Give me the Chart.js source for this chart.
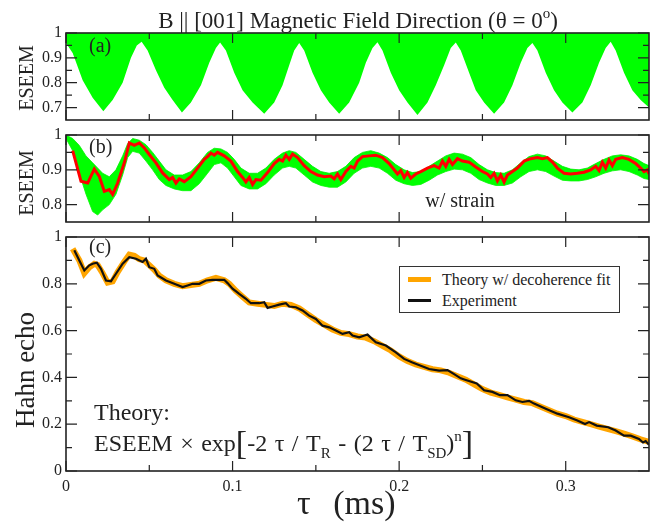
<!DOCTYPE html>
<html><head><meta charset="utf-8">
<script src="https://cdn.jsdelivr.net/npm/chart.js@4.4.1/dist/chart.umd.min.js"></script>
<style>
html,body{margin:0;padding:0;background:#fff;}
#wrap{position:relative;width:665px;height:523px;overflow:hidden;font-family:"Liberation Serif","Times New Roman",serif;color:#222;}
canvas{position:absolute;left:0;top:0;}
.t{position:absolute;white-space:nowrap;line-height:1;font-family:"Liberation Serif","Times New Roman",serif;}
.rot{position:absolute;white-space:nowrap;line-height:1;font-family:"Liberation Serif","Times New Roman",serif;transform:translate(-50%,-50%) rotate(-90deg);}
</style></head><body>
<div id="wrap">
<canvas id="ca" width="665" height="523"></canvas>
<canvas id="cb" width="665" height="523"></canvas>
<canvas id="cc" width="665" height="523"></canvas>
<div class="t" id="title" style="font-size:23px;left:358px;top:9px;transform:translateX(-50%);">B || [001] Magnetic Field Direction (θ = 0<span style="font-size:15px;position:relative;top:-10px;">o</span>)</div>
<div class="rot" style="font-size:20px;left:26px;top:78px;">ESEEM</div>
<div class="rot" style="font-size:20px;left:26px;top:183px;">ESEEM</div>
<div class="rot" style="font-size:27px;left:25px;top:370px;">Hahn echo</div>
<div class="t" style="font-size:20px;left:89px;top:35px;">(a)</div>
<div class="t" style="font-size:20px;left:89px;top:136px;">(b)</div>
<div class="t" style="font-size:20px;left:89px;top:236px;">(c)</div>
<div class="t" style="font-size:20px;left:460px;top:190px;transform:translateX(-50%);">w/ strain</div>
<div class="t" style="font-size:24px;left:94px;top:400px;">Theory:</div>
<div class="t" style="font-size:24px;left:94px;top:423px;word-spacing:1.5px;">ESEEM × exp<span style="font-size:34px;position:relative;top:3px;">[</span>-2 τ / T<span style="font-size:15px;position:relative;top:7px;">R</span> - (2 τ / T<span style="font-size:15px;position:relative;top:7px;">SD</span>)<span style="font-size:15px;position:relative;top:-10px;">n</span><span style="font-size:34px;position:relative;top:3px;">]</span></div>
<div class="t" style="font-size:34px;left:297px;top:486px;word-spacing:14px;">τ (ms)</div>
<div style="position:absolute;left:399px;top:266px;width:219px;height:45px;border:1.3px solid #333;background:#fff;">
  <div style="position:absolute;left:8px;top:10px;width:23px;height:5px;background:#ffa500;"></div>
  <div style="position:absolute;left:8px;top:32px;width:23px;height:2.5px;background:#111;"></div>
  <div class="t" style="font-size:16px;left:42px;top:5px;">Theory w/ decoherence fit</div>
  <div class="t" style="font-size:16px;left:42px;top:26px;">Experiment</div>
</div>
</div>
<script>
// ---------- data ----------
const aTau = [0.000,0.004,0.010,0.016,0.0224,0.028,0.034,0.039,0.0425,0.0454,0.049,0.054,0.059,0.064,0.0696,0.075,0.081,0.086,0.090,0.0925,0.096,0.101,0.106,0.112,0.119,0.125,0.130,0.134,0.137,0.140,0.143,0.148,0.153,0.158,0.164,0.170,0.176,0.180,0.184,0.187,0.190,0.195,0.200,0.205,0.211,0.217,0.222,0.227,0.231,0.234,0.237,0.242,0.246,0.251,0.257,0.263,0.268,0.273,0.277,0.280,0.283,0.288,0.293,0.298,0.304,0.310,0.315,0.320,0.324,0.327,0.330,0.335,0.340,0.345,0.350];
const aLower = [0.96,0.92,0.81,0.74,0.685,0.73,0.80,0.90,0.95,0.965,0.93,0.85,0.78,0.73,0.68,0.72,0.79,0.88,0.94,0.962,0.93,0.84,0.77,0.72,0.675,0.72,0.79,0.87,0.93,0.96,0.93,0.84,0.77,0.72,0.675,0.72,0.80,0.88,0.94,0.963,0.93,0.84,0.77,0.72,0.67,0.72,0.79,0.87,0.94,0.962,0.93,0.84,0.77,0.72,0.675,0.72,0.79,0.88,0.94,0.96,0.93,0.84,0.77,0.72,0.68,0.72,0.79,0.88,0.94,0.965,0.93,0.84,0.77,0.73,0.70];

const bTau = [0.000,0.004,0.008,0.012,0.016,0.019,0.022,0.026,0.030,0.034,0.037,0.040,0.044,0.048,0.052,0.056,0.060,0.065,0.070,0.075,0.080,0.085,0.089,0.093,0.097,0.101,0.105,0.110,0.115,0.120,0.125,0.130,0.134,0.138,0.143,0.148,0.153,0.158,0.163,0.168,0.173,0.178,0.183,0.188,0.193,0.198,0.203,0.208,0.213,0.218,0.223,0.228,0.233,0.238,0.243,0.248,0.253,0.258,0.263,0.268,0.273,0.278,0.283,0.288,0.293,0.298,0.303,0.308,0.313,0.318,0.323,0.328,0.333,0.338,0.343,0.347,0.350];
const bUpper = [1.00,0.99,0.97,0.94,0.92,0.905,0.89,0.88,0.90,0.94,0.975,0.99,0.985,0.972,0.95,0.925,0.90,0.885,0.885,0.895,0.92,0.95,0.962,0.96,0.95,0.93,0.905,0.89,0.89,0.905,0.93,0.948,0.955,0.95,0.93,0.91,0.895,0.89,0.895,0.91,0.935,0.95,0.955,0.948,0.935,0.915,0.90,0.892,0.895,0.91,0.925,0.94,0.948,0.945,0.935,0.915,0.90,0.892,0.89,0.90,0.92,0.938,0.945,0.94,0.925,0.91,0.902,0.90,0.905,0.918,0.93,0.94,0.943,0.94,0.93,0.918,0.912];
const bLower = [0.99,0.955,0.89,0.83,0.78,0.77,0.785,0.80,0.83,0.885,0.935,0.953,0.948,0.925,0.90,0.872,0.855,0.845,0.84,0.84,0.86,0.89,0.915,0.92,0.905,0.88,0.855,0.845,0.845,0.86,0.885,0.905,0.91,0.905,0.885,0.865,0.855,0.85,0.85,0.865,0.89,0.905,0.91,0.905,0.89,0.87,0.86,0.855,0.858,0.87,0.885,0.895,0.902,0.90,0.89,0.872,0.862,0.855,0.855,0.862,0.88,0.895,0.90,0.895,0.882,0.87,0.868,0.868,0.872,0.88,0.89,0.897,0.90,0.895,0.885,0.875,0.872];
const bRedTau = [0.004,0.009,0.013,0.017,0.020,0.023,0.026,0.028,0.031,0.035,0.038,0.041,0.044,0.047,0.050,0.054,0.058,0.062,0.064,0.066,0.068,0.071,0.075,0.079,0.083,0.085,0.087,0.089,0.091,0.095,0.099,0.103,0.106,0.108,0.110,0.112,0.114,0.117,0.121,0.125,0.128,0.130,0.132,0.134,0.136,0.139,0.143,0.147,0.151,0.155,0.159,0.161,0.163,0.165,0.168,0.171,0.173,0.175,0.178,0.182,0.186,0.190,0.194,0.197,0.199,0.201,0.203,0.205,0.207,0.210,0.213,0.217,0.221,0.224,0.226,0.228,0.230,0.232,0.235,0.238,0.242,0.246,0.250,0.253,0.255,0.257,0.259,0.261,0.263,0.265,0.268,0.271,0.275,0.279,0.283,0.286,0.289,0.292,0.295,0.299,0.303,0.307,0.311,0.315,0.318,0.320,0.322,0.324,0.326,0.328,0.330,0.334,0.338,0.342,0.345,0.347,0.349,0.350];
const bRed = [0.955,0.867,0.862,0.902,0.881,0.838,0.843,0.829,0.862,0.92,0.977,0.970,0.977,0.963,0.944,0.920,0.891,0.872,0.878,0.862,0.874,0.866,0.880,0.905,0.930,0.938,0.948,0.942,0.950,0.940,0.925,0.895,0.878,0.865,0.878,0.858,0.872,0.870,0.892,0.918,0.930,0.925,0.942,0.930,0.945,0.935,0.912,0.895,0.885,0.880,0.882,0.874,0.888,0.872,0.895,0.910,0.905,0.925,0.938,0.940,0.942,0.935,0.918,0.900,0.888,0.898,0.878,0.892,0.876,0.888,0.895,0.905,0.912,0.905,0.925,0.910,0.930,0.915,0.932,0.925,0.922,0.908,0.895,0.888,0.878,0.890,0.868,0.885,0.865,0.885,0.895,0.905,0.925,0.932,0.935,0.932,0.935,0.922,0.905,0.890,0.888,0.890,0.893,0.900,0.910,0.898,0.922,0.905,0.928,0.912,0.930,0.935,0.930,0.918,0.905,0.895,0.900,0.888];

const cExpTau = [0.005,0.008,0.011,0.014,0.016,0.0185,0.021,0.024,0.027,0.030,0.034,0.038,0.042,0.046,0.048,0.050,0.053,0.055,0.060,0.065,0.070,0.073,0.076,0.080,0.084,0.088,0.092,0.095,0.097,0.100,0.104,0.108,0.111,0.116,0.119,0.121,0.124,0.128,0.132,0.134,0.138,0.142,0.146,0.150,0.154,0.158,0.162,0.166,0.170,0.172,0.176,0.181,0.186,0.192,0.198,0.203,0.208,0.213,0.218,0.224,0.229,0.233,0.237,0.240,0.2466,0.251,0.256,0.2605,0.265,0.270,0.274,0.278,0.281,0.288,0.295,0.302,0.307,0.3116,0.314,0.3186,0.3255,0.330,0.335,0.339,0.344,0.3464,0.348,0.350];
const cExp = [0.943,0.90,0.857,0.879,0.886,0.890,0.864,0.814,0.811,0.843,0.886,0.914,0.907,0.893,0.907,0.871,0.864,0.836,0.814,0.800,0.786,0.793,0.800,0.800,0.814,0.817,0.817,0.817,0.803,0.779,0.757,0.736,0.717,0.717,0.721,0.697,0.703,0.711,0.717,0.703,0.700,0.686,0.664,0.650,0.621,0.614,0.600,0.586,0.593,0.579,0.571,0.583,0.550,0.536,0.507,0.479,0.464,0.450,0.436,0.429,0.431,0.414,0.396,0.389,0.374,0.345,0.338,0.324,0.324,0.302,0.295,0.300,0.288,0.266,0.245,0.230,0.216,0.201,0.209,0.194,0.187,0.173,0.151,0.151,0.137,0.122,0.128,0.112];
const cTheoryTau = [0.004,0.008,0.011,0.014,0.017,0.019,0.022,0.025,0.028,0.031,0.035,0.038,0.041,0.044,0.047,0.050,0.053,0.056,0.060,0.065,0.070,0.075,0.080,0.085,0.090,0.095,0.098,0.102,0.106,0.110,0.115,0.120,0.125,0.130,0.135,0.140,0.145,0.150,0.155,0.160,0.165,0.170,0.175,0.180,0.185,0.190,0.195,0.200,0.205,0.210,0.215,0.220,0.225,0.230,0.235,0.240,0.245,0.250,0.255,0.260,0.265,0.270,0.275,0.280,0.285,0.290,0.295,0.300,0.305,0.310,0.315,0.320,0.325,0.330,0.335,0.340,0.345,0.350];
const cTheory = [0.95,0.90,0.845,0.87,0.885,0.88,0.845,0.805,0.81,0.85,0.895,0.925,0.92,0.905,0.90,0.88,0.86,0.835,0.815,0.80,0.79,0.795,0.80,0.815,0.825,0.815,0.80,0.77,0.745,0.72,0.715,0.71,0.705,0.715,0.71,0.695,0.67,0.645,0.625,0.605,0.59,0.585,0.575,0.57,0.555,0.535,0.515,0.49,0.47,0.455,0.445,0.435,0.43,0.42,0.405,0.39,0.37,0.35,0.335,0.325,0.315,0.305,0.295,0.29,0.275,0.26,0.245,0.235,0.22,0.21,0.20,0.19,0.18,0.17,0.16,0.148,0.135,0.125];

const xTickValues = [0, 0.1, 0.2, 0.3];
const xTickLabels = ['0', '0.1', '0.2', '0.3'];
const xMinorTicks = [0.05, 0.15, 0.25];
const aYTicks = [0.7, 0.8, 0.9, 1];
const aYLabels = ['0.7', '0.8', '0.9', '1'];
const aYMinor = [0.75, 0.85, 0.95];
const bYTicks = [0.8, 0.9, 1];
const bYLabels = ['0.8', '0.9', '1'];
const bYMinor = [0.85, 0.95];
const cYTicks = [0, 0.2, 0.4, 0.6, 0.8, 1];
const cYLabels = ['0', '0.2', '0.4', '0.6', '0.8', '1'];
const cYMinor = [0.1, 0.3, 0.5, 0.7, 0.9];

// ---------- drawing ----------
const F = '"Liberation Serif", "Times New Roman", serif';
const pts = (xs, ys) => xs.map((x, i) => ({x, y: ys[i]}));

const frame = {
  id: 'frame',
  afterDatasetsDraw(chart, args, o) {
    const {ctx, chartArea: {left, right, top, bottom}, scales: {x, y}} = chart;
    ctx.save();
    ctx.strokeStyle = '#222';
    ctx.lineWidth = 1.6;
    ctx.strokeRect(left, top, right - left, bottom - top);
    ctx.lineWidth = 1.2;
    ctx.beginPath();
    const xt = (vals, len) => vals.forEach(v => { const p = x.getPixelForValue(v);
      ctx.moveTo(p, bottom); ctx.lineTo(p, bottom - len); ctx.moveTo(p, top); ctx.lineTo(p, top + len); });
    const yt = (vals, len) => vals.forEach(v => { const p = y.getPixelForValue(v);
      ctx.moveTo(left, p); ctx.lineTo(left + len, p); ctx.moveTo(right, p); ctx.lineTo(right - len, p); });
    xt(xTickValues, 10); xt(xMinorTicks, 6);
    yt(o.yMajor, 11); yt(o.yMinor, 6);
    ctx.stroke();
    ctx.restore();
  }
};

function makeChart(id, datasets, cfg) {
  return new Chart(document.getElementById(id), {
    type: 'line',
    data: {datasets},
    options: {
      responsive: false, animation: false, devicePixelRatio: 1,
      layout: {padding: {left: 0, right: 16, top: cfg.padTop, bottom: cfg.padBottom}},
      plugins: {legend: {display: false}, tooltip: {enabled: false},
                frame: {yMajor: cfg.yTicks, yMinor: cfg.yMinor}},
      elements: {point: {radius: 0}, line: {tension: 0}},
      scales: {
        x: {type: 'linear', min: 0, max: 0.35, display: cfg.showX,
            grid: {display: false, drawTicks: false}, border: {display: false},
            afterBuildTicks: s => { s.ticks = xTickValues.map(v => ({value: v})); },
            ticks: {callback: (v, i) => xTickLabels[i], padding: 6, autoSkip: false, maxRotation: 0,
                    font: {family: F, size: 16}, color: '#222'},
            afterFit: s => { if (cfg.showX) s.height = 52; }},
        y: {type: 'linear', min: cfg.yMin, max: cfg.yMax,
            grid: {display: false, drawTicks: false}, border: {display: false},
            afterBuildTicks: s => { s.ticks = cfg.yTicks.map(v => ({value: v})); },
            ticks: {callback: (v, i) => cfg.yLabels[i], padding: 4, autoSkip: false,
                    font: {family: F, size: 16}, color: '#222'},
            afterFit: s => { s.width = 66; }}
      }
    },
    plugins: [frame]
  });
}

makeChart('ca', [
  {data: pts(aTau, aLower), borderWidth: 0, borderColor: '#00ff00', backgroundColor: '#00ff00', fill: 'end'}
], {padTop: 33, padBottom: 403, yMin: 0.65, yMax: 1.0, yTicks: aYTicks, yLabels: aYLabels, yMinor: aYMinor, showX: false});

makeChart('cb', [
  {data: pts(bRedTau, bRed), borderWidth: 3, borderColor: '#ff0000', fill: false, order: 0},
  {data: pts(bTau, bUpper), borderWidth: 0.8, borderColor: '#00ee00', backgroundColor: '#00ff00', fill: '+1', order: 2},
  {data: pts(bTau, bLower), borderWidth: 0.8, borderColor: '#00ee00', fill: false, order: 2}
], {padTop: 135, padBottom: 301, yMin: 0.75, yMax: 1.0, yTicks: bYTicks, yLabels: bYLabels, yMinor: bYMinor, showX: false});

makeChart('cc', [
  {data: pts(cExpTau, cExp), borderWidth: 2.2, borderColor: '#111', fill: false, order: 0},
  {data: pts(cTheoryTau, cTheory), borderWidth: 6, borderColor: '#ffa500', fill: false, order: 1}
], {padTop: 237, padBottom: 0, yMin: 0, yMax: 1.0, yTicks: cYTicks, yLabels: cYLabels, yMinor: cYMinor, showX: true});
</script>
</body></html>
